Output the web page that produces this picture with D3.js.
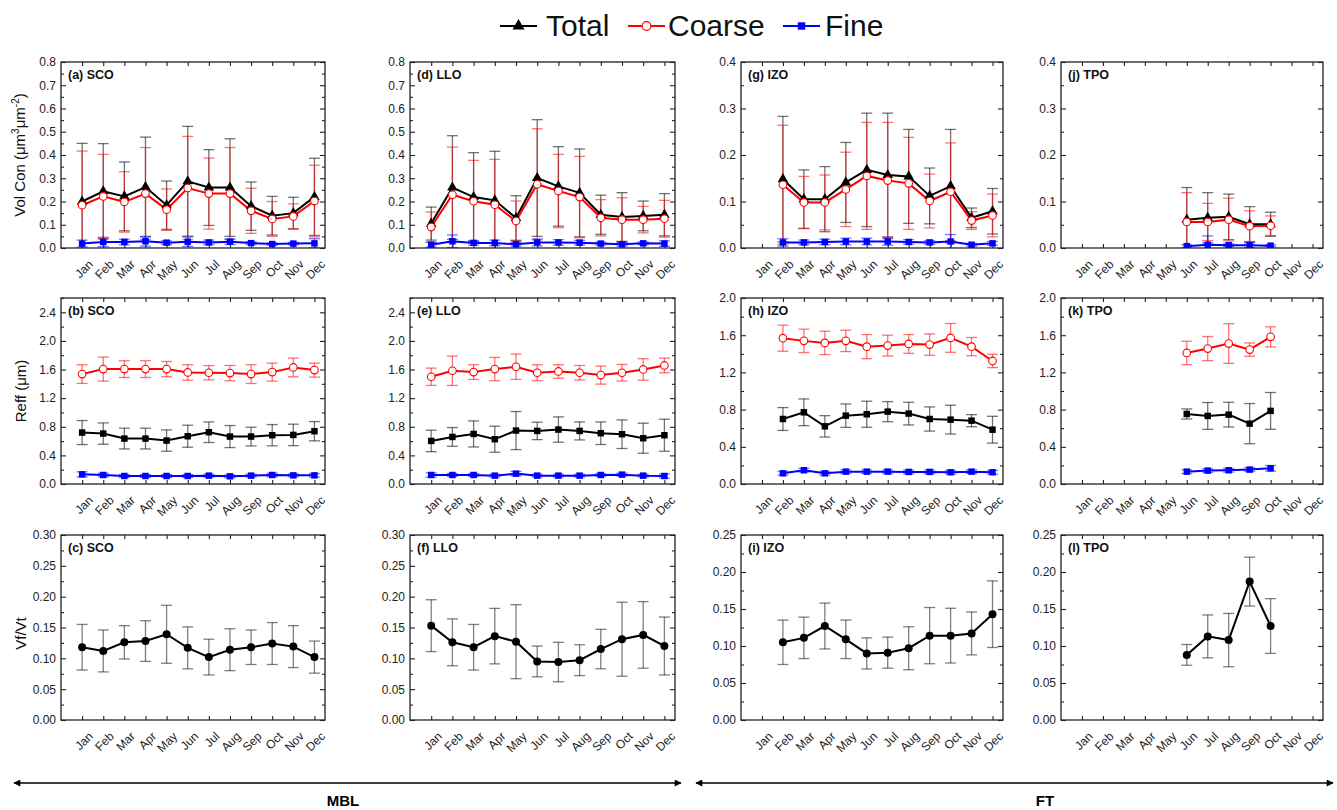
<!DOCTYPE html>
<html>
<head>
<meta charset="utf-8">
<script src="https://cdn.jsdelivr.net/npm/d3@7"></script>
<style>
  body { margin: 0; background: #fff; }
  text { font-family: "Liberation Sans", Arial, sans-serif; }
</style>
</head>
<body>
<svg id="chart" width="1337" height="810"></svg>
<script>
// ---------- data ----------
const months = ["Jan","Feb","Mar","Apr","May","Jun","Jul","Aug","Sep","Oct","Nov","Dec"];
const seriesNames = ["Total", "Coarse", "Fine"];
const sites = ["SCO", "LLO", "IZO", "TPO"];
const volTicks = [[0,0.1,0.2,0.3,0.4,0.5,0.6,0.7,0.8],[0,0.1,0.2,0.3,0.4]];
const reffTicks = [[0,0.4,0.8,1.2,1.6,2.0,2.4],[0,0.4,0.8,1.2,1.6,2.0]];
const ratioTicks = [[0,0.05,0.10,0.15,0.20,0.25,0.30],[0,0.05,0.10,0.15,0.20,0.25]];

// Volume concentration (um^3/um^2): mean and standard deviation
const scoVolTotal    = [0.200,0.244,0.222,0.262,0.184,0.287,0.260,0.260,0.180,0.139,0.150,0.220];
const scoVolTotalSd  = [0.250,0.205,0.148,0.215,0.104,0.236,0.163,0.210,0.104,0.083,0.068,0.166];
const scoVolCoarse   = [0.184,0.222,0.198,0.234,0.165,0.258,0.234,0.234,0.160,0.125,0.136,0.202];
const scoVolCoarseSd = [0.233,0.181,0.130,0.198,0.089,0.222,0.153,0.198,0.097,0.075,0.054,0.154];
const scoVolFine     = [0.019,0.026,0.026,0.029,0.023,0.027,0.024,0.027,0.021,0.017,0.019,0.020];
const scoVolFineSd   = [0.015,0.020,0.012,0.021,0.008,0.020,0.010,0.012,0.006,0.005,0.005,0.020];

const lloVolTotal    = [0.105,0.260,0.219,0.205,0.129,0.301,0.265,0.237,0.143,0.133,0.138,0.143];
const lloVolTotalSd  = [0.071,0.223,0.191,0.211,0.096,0.251,0.171,0.189,0.084,0.105,0.064,0.091];
const lloVolCoarse   = [0.090,0.229,0.201,0.186,0.116,0.274,0.245,0.219,0.130,0.122,0.122,0.126];
const lloVolCoarseSd = [0.065,0.205,0.176,0.195,0.086,0.239,0.158,0.175,0.078,0.094,0.057,0.079];
const lloVolFine     = [0.014,0.029,0.022,0.022,0.016,0.024,0.024,0.023,0.019,0.016,0.020,0.019];
const lloVolFineSd   = [0.010,0.027,0.010,0.012,0.008,0.015,0.012,0.010,0.006,0.008,0.006,0.012];

const izoVolTotal    = [null,0.148,0.105,0.105,0.141,0.168,0.157,0.154,0.112,0.133,0.065,0.079];
const izoVolTotalSd  = [null,0.135,0.063,0.070,0.086,0.122,0.133,0.101,0.060,0.122,0.021,0.049];
const izoVolCoarse   = [null,0.136,0.098,0.098,0.126,0.155,0.145,0.139,0.101,0.121,0.059,0.070];
const izoVolCoarseSd = [null,0.128,0.056,0.059,0.080,0.115,0.125,0.099,0.058,0.105,0.019,0.046];
const izoVolFine     = [null,0.012,0.012,0.013,0.014,0.014,0.014,0.013,0.012,0.014,0.007,0.010];
const izoVolFineSd   = [null,0.008,0.005,0.006,0.007,0.007,0.008,0.005,0.004,0.015,0.003,0.004];

const tpoVolTotal    = [null,null,null,null,null,0.061,0.065,0.067,0.051,0.051,null,null];
const tpoVolTotalSd  = [null,null,null,null,null,0.069,0.054,0.049,0.038,0.026,null,null];
const tpoVolCoarse   = [null,null,null,null,null,0.056,0.056,0.061,0.047,0.048,null,null];
const tpoVolCoarseSd = [null,null,null,null,null,0.063,0.040,0.046,0.033,0.021,null,null];
const tpoVolFine     = [null,null,null,null,null,0.004,0.007,0.006,0.006,0.005,null,null];
const tpoVolFineSd   = [null,null,null,null,null,0.003,0.019,0.003,0.005,0.002,null,null];

// Effective radius (um): mean and standard deviation
const scoReffTotal    = [0.719,0.705,0.635,0.635,0.607,0.668,0.724,0.663,0.663,0.682,0.686,0.738];
const scoReffTotalSd  = [0.168,0.149,0.145,0.145,0.149,0.154,0.144,0.154,0.131,0.149,0.150,0.135];
const scoReffCoarse   = [1.536,1.606,1.606,1.606,1.606,1.559,1.555,1.550,1.536,1.564,1.629,1.592];
const scoReffCoarseSd = [0.130,0.168,0.117,0.117,0.107,0.108,0.100,0.107,0.131,0.126,0.131,0.098];
const scoReffFine     = [0.135,0.126,0.112,0.112,0.112,0.112,0.117,0.107,0.117,0.126,0.121,0.121];
const scoReffFineSd   = [0.035,0.025,0.020,0.020,0.020,0.020,0.020,0.020,0.020,0.025,0.020,0.025];

const lloReffTotal    = [0.602,0.658,0.700,0.626,0.747,0.742,0.761,0.742,0.710,0.696,0.640,0.682];
const lloReffTotalSd  = [0.150,0.131,0.182,0.182,0.266,0.122,0.177,0.126,0.158,0.200,0.210,0.224];
const lloReffCoarse   = [1.499,1.583,1.564,1.606,1.639,1.555,1.573,1.555,1.522,1.555,1.601,1.657];
const lloReffCoarseSd = [0.121,0.205,0.103,0.163,0.177,0.112,0.094,0.102,0.126,0.116,0.150,0.103];
const lloReffFine     = [0.126,0.126,0.126,0.117,0.145,0.117,0.117,0.117,0.126,0.131,0.117,0.112];
const lloReffFineSd   = [0.030,0.020,0.020,0.020,0.030,0.020,0.020,0.020,0.020,0.020,0.020,0.030];

const izoReffTotal    = [null,0.699,0.771,0.620,0.735,0.750,0.778,0.757,0.699,0.692,0.681,0.584];
const izoReffTotalSd  = [null,0.123,0.144,0.115,0.126,0.140,0.108,0.122,0.130,0.155,0.065,0.144];
const izoReffCoarse   = [null,1.568,1.539,1.517,1.539,1.477,1.488,1.506,1.499,1.571,1.477,1.323];
const izoReffCoarseSd = [null,0.140,0.126,0.126,0.115,0.130,0.112,0.101,0.115,0.155,0.098,0.072];
const izoReffFine     = [null,0.115,0.148,0.115,0.133,0.133,0.133,0.130,0.130,0.126,0.133,0.126];
const izoReffFineSd   = [null,0.020,0.020,0.020,0.020,0.020,0.020,0.020,0.020,0.020,0.020,0.020];

const tpoReffTotal    = [null,null,null,null,null,0.753,0.732,0.746,0.649,0.786,null,null];
const tpoReffTotalSd  = [null,null,null,null,null,0.054,0.144,0.133,0.216,0.198,null,null];
const tpoReffCoarse   = [null,null,null,null,null,1.409,1.456,1.510,1.445,1.582,null,null];
const tpoReffCoarseSd = [null,null,null,null,null,0.126,0.130,0.213,0.072,0.108,null,null];
const tpoReffFine     = [null,null,null,null,null,0.133,0.144,0.148,0.155,0.169,null,null];
const tpoReffFineSd   = [null,null,null,null,null,0.020,0.020,0.020,0.020,0.030,null,null];

// Fine-to-total volume ratio: mean and standard deviation
const scoRatio   = [0.118,0.112,0.126,0.128,0.139,0.117,0.102,0.114,0.118,0.124,0.119,0.102];
const scoRatioSd = [0.037,0.034,0.027,0.033,0.047,0.034,0.029,0.034,0.028,0.034,0.034,0.026];
const lloRatio   = [0.153,0.126,0.118,0.136,0.127,0.095,0.094,0.097,0.115,0.131,0.138,0.120];
const lloRatioSd = [0.042,0.038,0.037,0.045,0.060,0.025,0.032,0.025,0.032,0.060,0.054,0.047];
const izoRatio   = [null,0.105,0.111,0.127,0.109,0.090,0.091,0.097,0.114,0.114,0.117,0.143];
const izoRatioSd = [null,0.030,0.028,0.031,0.026,0.021,0.021,0.029,0.038,0.037,0.029,0.045];
const tpoRatio   = [null,null,null,null,null,0.088,0.113,0.108,0.187,0.127,null,null];
const tpoRatioSd = [null,null,null,null,null,0.014,0.029,0.036,0.033,0.037,null,null];

// ---------- layout ----------
const svg = d3.select("#chart");
const cols = [{l:61, r:325}, {l:410, r:675}, {l:741, r:1003}, {l:1061, r:1323}];
const rows = [{t:62, b:248}, {t:298, b:484}, {t:535, b:720}];
const RED = "#ff0000", BLUE = "#0000ff", BLACK = "#000000";

function ser(v, sd, color, marker) { return {v, sd, color, marker}; }

const panels = [
  // row 0: volume concentration
  {row:0, col:0, label:"(a) SCO", dom:0.8, ticks:volTicks[0], minor:0.05, fmt:".1f",
   series:[ser(scoVolTotal,scoVolTotalSd,BLACK,"tri"), ser(scoVolCoarse,scoVolCoarseSd,RED,"ocircle"), ser(scoVolFine,scoVolFineSd,BLUE,"square")]},
  {row:0, col:1, label:"(d) LLO", dom:0.8, ticks:volTicks[0], minor:0.05, fmt:".1f",
   series:[ser(lloVolTotal,lloVolTotalSd,BLACK,"tri"), ser(lloVolCoarse,lloVolCoarseSd,RED,"ocircle"), ser(lloVolFine,lloVolFineSd,BLUE,"square")]},
  {row:0, col:2, label:"(g) IZO", dom:0.4, ticks:volTicks[1], minor:0.05, fmt:".1f",
   series:[ser(izoVolTotal,izoVolTotalSd,BLACK,"tri"), ser(izoVolCoarse,izoVolCoarseSd,RED,"ocircle"), ser(izoVolFine,izoVolFineSd,BLUE,"square")]},
  {row:0, col:3, label:"(j) TPO", dom:0.4, ticks:volTicks[1], minor:0.05, fmt:".1f",
   series:[ser(tpoVolTotal,tpoVolTotalSd,BLACK,"tri"), ser(tpoVolCoarse,tpoVolCoarseSd,RED,"ocircle"), ser(tpoVolFine,tpoVolFineSd,BLUE,"square")]},
  // row 1: effective radius
  {row:1, col:0, label:"(b) SCO", dom:2.6, ticks:reffTicks[0], minor:0.2, fmt:".1f",
   series:[ser(scoReffTotal,scoReffTotalSd,BLACK,"square"), ser(scoReffCoarse,scoReffCoarseSd,RED,"ocircle"), ser(scoReffFine,scoReffFineSd,BLUE,"square")]},
  {row:1, col:1, label:"(e) LLO", dom:2.6, ticks:reffTicks[0], minor:0.2, fmt:".1f",
   series:[ser(lloReffTotal,lloReffTotalSd,BLACK,"square"), ser(lloReffCoarse,lloReffCoarseSd,RED,"ocircle"), ser(lloReffFine,lloReffFineSd,BLUE,"square")]},
  {row:1, col:2, label:"(h) IZO", dom:2.0, ticks:reffTicks[1], minor:0.2, fmt:".1f",
   series:[ser(izoReffTotal,izoReffTotalSd,BLACK,"square"), ser(izoReffCoarse,izoReffCoarseSd,RED,"ocircle"), ser(izoReffFine,izoReffFineSd,BLUE,"square")]},
  {row:1, col:3, label:"(k) TPO", dom:2.0, ticks:reffTicks[1], minor:0.2, fmt:".1f",
   series:[ser(tpoReffTotal,tpoReffTotalSd,BLACK,"square"), ser(tpoReffCoarse,tpoReffCoarseSd,RED,"ocircle"), ser(tpoReffFine,tpoReffFineSd,BLUE,"square")]},
  // row 2: Vf/Vt
  {row:2, col:0, label:"(c) SCO", dom:0.30, ticks:ratioTicks[0], minor:0.025, fmt:".2f",
   series:[ser(scoRatio,scoRatioSd,BLACK,"dot")]},
  {row:2, col:1, label:"(f) LLO", dom:0.30, ticks:ratioTicks[0], minor:0.025, fmt:".2f",
   series:[ser(lloRatio,lloRatioSd,BLACK,"dot")]},
  {row:2, col:2, label:"(i) IZO", dom:0.25, ticks:ratioTicks[1], minor:0.025, fmt:".2f",
   series:[ser(izoRatio,izoRatioSd,BLACK,"dot")]},
  {row:2, col:3, label:"(l) TPO", dom:0.25, ticks:ratioTicks[1], minor:0.025, fmt:".2f",
   series:[ser(tpoRatio,tpoRatioSd,BLACK,"dot")]},
];

const defs = svg.append("defs");

function drawMarker(g, type, color, x, y, scale = 1) {
  if (type === "tri") {
    g.append("path").attr("d", d3.symbol(d3.symbolTriangle, 48 * scale * scale)())
      .attr("transform", `translate(${x},${y})`).attr("fill", color);
  } else if (type === "square") {
    g.append("path").attr("d", d3.symbol(d3.symbolSquare, 42 * scale * scale)())
      .attr("transform", `translate(${x},${y})`).attr("fill", color);
  } else if (type === "ocircle") {
    g.append("circle").attr("cx", x).attr("cy", y).attr("r", 3.8 * scale)
      .attr("fill", "#fff").attr("stroke", color).attr("stroke-width", 1.1);
  } else {
    g.append("circle").attr("cx", x).attr("cy", y).attr("r", 4 * scale).attr("fill", color);
  }
}

panels.forEach((p, idx) => {
  const c = cols[p.col], r = rows[p.row];
  const x = d3.scaleLinear().domain([0, 12.5]).range([c.l, c.r]);
  const y = d3.scaleLinear().domain([0, p.dom]).range([r.b, r.t]);
  const g = svg.append("g");

  const clipId = "clip" + idx;
  defs.append("clipPath").attr("id", clipId)
    .append("rect").attr("x", c.l).attr("y", r.t).attr("width", c.r - c.l).attr("height", r.b - r.t);

  // minor ticks
  const minorVals = d3.range(0, p.dom + 1e-9, p.minor).filter(v => !p.ticks.some(t => Math.abs(t - v) < 1e-9));
  const axStyle = sel => {
    sel.select(".domain").remove();
    sel.selectAll("line").attr("stroke", "#222").attr("stroke-width", 1.1);
    sel.selectAll("text").attr("fill", "#222").attr("font-size", 12);
  };

  g.append("g").attr("transform", `translate(${c.l},0)`)
    .call(d3.axisLeft(y).tickValues(p.ticks).tickFormat(d3.format(p.fmt)).tickSizeInner(-5).tickSizeOuter(0).tickPadding(5))
    .call(axStyle).attr("font-family", null);
  g.append("g").attr("transform", `translate(${c.l},0)`)
    .call(d3.axisLeft(y).tickValues(minorVals).tickFormat("").tickSizeInner(-3).tickSizeOuter(0))
    .call(axStyle);
  g.append("g").attr("transform", `translate(${c.r},0)`)
    .call(d3.axisRight(y).tickValues(p.ticks).tickFormat("").tickSizeInner(-5).tickSizeOuter(0))
    .call(axStyle);
  g.append("g").attr("transform", `translate(${c.r},0)`)
    .call(d3.axisRight(y).tickValues(minorVals).tickFormat("").tickSizeInner(-3).tickSizeOuter(0))
    .call(axStyle);

  const monthIdx = d3.range(1, 13);
  const bottomAx = g.append("g").attr("transform", `translate(0,${r.b})`)
    .call(d3.axisBottom(x).tickValues(monthIdx).tickFormat(i => months[i - 1]).tickSizeInner(-4).tickSizeOuter(0))
    .call(axStyle);
  bottomAx.selectAll("text")
    .attr("x", 0).attr("y", 0).attr("dy", 0)
    .attr("text-anchor", "end")
    .attr("transform", "translate(11,17) rotate(-45)");
  g.append("g").attr("transform", `translate(0,${r.t})`)
    .call(d3.axisTop(x).tickValues(monthIdx).tickFormat("").tickSizeInner(-4).tickSizeOuter(0))
    .call(axStyle);

  // frame
  g.append("rect").attr("x", c.l).attr("y", r.t).attr("width", c.r - c.l).attr("height", r.b - r.t)
    .attr("fill", "none").attr("stroke", "#222").attr("stroke-width", 1.3);

  // panel label
  g.append("text").attr("x", c.l + 7).attr("y", r.t + 17)
    .attr("font-size", 12.5).attr("font-weight", "bold").attr("fill", "#111").text(p.label);

  const plot = g.append("g").attr("clip-path", `url(#${clipId})`);

  // error bars
  p.series.forEach(s => {
    const eb = plot.append("g").attr("stroke", s.color).attr("stroke-opacity", p.row === 2 ? 0.5 : 0.55)
      .attr("stroke-width", 1.3).attr("fill", "none");
    s.v.forEach((v, i) => {
      if (v == null) return;
      const xx = x(i + 1), lo = y(v - s.sd[i]), hi = y(v + s.sd[i]);
      eb.append("line").attr("x1", xx).attr("x2", xx).attr("y1", lo).attr("y2", hi);
      eb.append("line").attr("x1", xx - 5.5).attr("x2", xx + 5.5).attr("y1", lo).attr("y2", lo);
      eb.append("line").attr("x1", xx - 5.5).attr("x2", xx + 5.5).attr("y1", hi).attr("y2", hi);
    });
  });

  // lines
  p.series.forEach(s => {
    const line = d3.line().defined(d => d != null).x((d, i) => x(i + 1)).y(d => y(d));
    plot.append("path").datum(s.v).attr("d", line)
      .attr("fill", "none").attr("stroke", s.color).attr("stroke-width", 2);
  });

  // markers
  p.series.forEach(s => {
    s.v.forEach((v, i) => { if (v != null) drawMarker(plot, s.marker, s.color, x(i + 1), y(v)); });
  });
});

// y-axis titles
const vt = svg.append("text").attr("transform", `translate(25,${(rows[0].t + rows[0].b) / 2}) rotate(-90)`)
  .attr("text-anchor", "middle").attr("font-size", 15).attr("fill", "#111");
vt.append("tspan").text("Vol Con (\u03bcm");
vt.append("tspan").attr("font-size", 10).attr("dy", -6).text("3");
vt.append("tspan").attr("dy", 6).text("\u03bcm");
vt.append("tspan").attr("font-size", 10).attr("dy", -6).text("-2");
vt.append("tspan").attr("dy", 6).text(")");

svg.append("text").attr("transform", `translate(26,${(rows[1].t + rows[1].b) / 2}) rotate(-90)`)
  .attr("text-anchor", "middle").attr("font-size", 15).attr("fill", "#111").text("Reff (\u03bcm)");
svg.append("text").attr("transform", `translate(26,${(rows[2].t + rows[2].b) / 2 + 6}) rotate(-90)`)
  .attr("text-anchor", "middle").attr("font-size", 15).attr("fill", "#111").text("Vf/Vt");

// legend
const legendItems = [
  {name: seriesNames[0], color: BLACK, marker: "tri", x: 500, tx: 546},
  {name: seriesNames[1], color: RED, marker: "ocircle", x: 628, tx: 668},
  {name: seriesNames[2], color: BLUE, marker: "square", x: 783, tx: 825},
];
const lg = svg.append("g");
legendItems.forEach(it => {
  lg.append("line").attr("x1", it.x).attr("x2", it.x + 37).attr("y1", 26).attr("y2", 26)
    .attr("stroke", it.color).attr("stroke-width", 2.2);
  drawMarker(lg, it.marker, it.color, it.x + 18.5, 26, 1.15);
  lg.append("text").attr("x", it.tx).attr("y", 36).attr("font-size", 30).attr("fill", "#111").text(it.name);
});

// regime arrows
const ah = defs.append("marker").attr("id", "ahead").attr("viewBox", "0 0 10 10").attr("refX", 9).attr("refY", 5)
  .attr("markerWidth", 10).attr("markerHeight", 7).attr("markerUnits", "userSpaceOnUse").attr("orient", "auto-start-reverse");
ah.append("path").attr("d", "M0,0 L10,5 L0,10 z").attr("fill", "#000");

const regimes = [{name:"MBL", x1:14, x2:681, tx:343}, {name:"FT", x1:696, x2:1333, tx:1045}];
regimes.forEach(rg => {
  svg.append("line").attr("x1", rg.x1).attr("x2", rg.x2).attr("y1", 783).attr("y2", 783)
    .attr("stroke", "#000").attr("stroke-width", 1.6)
    .attr("marker-start", "url(#ahead)").attr("marker-end", "url(#ahead)");
  svg.append("text").attr("x", rg.tx).attr("y", 806).attr("text-anchor", "middle")
    .attr("font-size", 15).attr("font-weight", "bold").attr("fill", "#000").text(rg.name);
});
</script>
</body>
</html>
